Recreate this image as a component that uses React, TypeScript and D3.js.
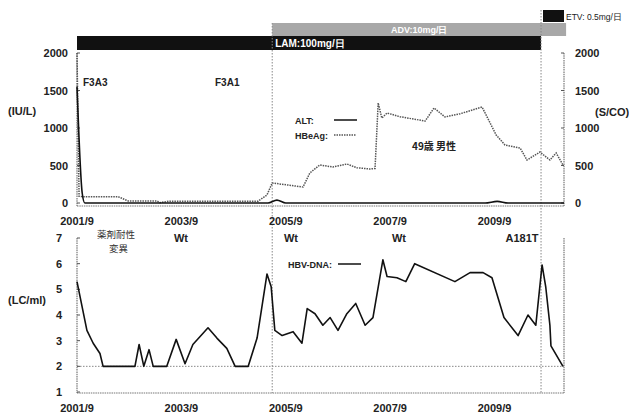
import React from "react";
import * as d3 from "d3";

// x values are decimal years
const xTickValues = [2001.67, 2003.67, 2005.67, 2007.67, 2009.67];
const xTickLabels = ["2001/9", "2003/9", "2005/9", "2007/9", "2009/9"];
const topTicks = [0, 500, 1000, 1500, 2000];
const bottomTicks = [1, 2, 3, 4, 5, 6, 7];

const altYears = [2001.67, 2001.77, 2001.82, 2005.33, 2005.5, 2005.67, 2009.49, 2009.72, 2009.93, 2011.0];
const altValues = [1550, 130, 0, 0, 38, 0, 0, 22, 0, 0];

const hbeagYears = [2001.67, 2001.71, 2001.77, 2002.46, 2002.65, 2003.2, 2003.26, 2003.45, 2005.14, 2005.31, 2005.41, 2006.0, 2006.13, 2006.32, 2006.57, 2006.84, 2007.03, 2007.28, 2007.38, 2007.44, 2007.51, 2007.61, 2007.86, 2008.34, 2008.51, 2008.72, 2009.01, 2009.43, 2009.7, 2009.87, 2010.16, 2010.29, 2010.54, 2010.73, 2010.85, 2010.98];
const hbeagValues = [2000, 90, 85, 84, 27, 27, 5, 25, 25, 107, 267, 213, 400, 507, 480, 520, 470, 453, 460, 1333, 1133, 1200, 1150, 1093, 1267, 1147, 1190, 1280, 907, 773, 733, 573, 680, 573, 667, 507];

const dnaYears = [2001.67, 2001.86, 2001.98, 2002.11, 2002.17, 2002.78, 2002.86, 2002.95, 2003.05, 2003.13, 2003.39, 2003.57, 2003.74, 2003.89, 2004.18, 2004.35, 2004.54, 2004.7, 2004.95, 2005.12, 2005.31, 2005.39, 2005.46, 2005.6, 2005.81, 2005.98, 2006.08, 2006.23, 2006.38, 2006.52, 2006.67, 2006.84, 2007.01, 2007.19, 2007.34, 2007.53, 2007.61, 2007.8, 2007.97, 2008.14, 2008.91, 2009.2, 2009.45, 2009.62, 2009.85, 2010.12, 2010.31, 2010.46, 2010.58, 2010.65, 2010.73, 2010.75, 2010.98];
const dnaValues = [5.3, 3.4, 2.9, 2.5, 2.0, 2.0, 2.85, 2.0, 2.65, 2.0, 2.0, 3.05, 2.1, 2.85, 3.5, 3.1, 2.7, 2.0, 2.0, 3.1, 5.6, 5.1, 3.4, 3.2, 3.35, 2.9, 4.25, 4.05, 3.6, 3.9, 3.4, 4.05, 4.45, 3.6, 3.9, 6.15, 5.5, 5.45, 5.3, 6.0, 5.3, 5.65, 5.65, 5.45, 3.9, 3.2, 4.0, 3.6, 5.95, 5.1, 3.6, 2.8, 2.0];

const lamStart = 2001.67;
const lamEnd = 2010.56;
const advStart = 2005.41;
const advEnd = 2011.04;
const etvStart = 2010.56;
const dnaThreshold = 2;

const FONT = "'Liberation Sans', Arial, sans-serif";
const CJK = "'Noto Sans CJK JP', sans-serif";

export default function App() {
  const x = d3.scaleLinear().domain([2001.67, 2011.0]).range([77, 564]);
  const yTop = d3.scaleLinear().domain([0, 2000]).range([203, 53]);
  const yBot = d3.scaleLinear().domain([1, 7]).range([392, 238]);

  const altLine = d3
    .line<number>()
    .x((_, i) => x(altYears[i]))
    .y((d) => yTop(d))
    .curve(d3.curveMonotoneX);
  const hbLine = d3
    .line<number>()
    .x((_, i) => x(hbeagYears[i]))
    .y((d) => yTop(d));
  const dnaLine = d3
    .line<number>()
    .x((_, i) => x(dnaYears[i]))
    .y((d) => yBot(d));

  const frame = { stroke: "#777", strokeWidth: 1.2, strokeDasharray: "1.5,0.8", fill: "none" };
  const tickStyle: React.CSSProperties = { fontFamily: FONT, fontSize: 11, fontWeight: 700, fill: "#222" };

  return (
    <svg width={629} height={413} style={{ position: "absolute", left: 0, top: 0, background: "#fff" }}>
      {/* treatment bars */}
      <rect x={x(advStart)} y={23} width={x(advEnd) - x(advStart)} height={13} fill="#a8a8a8" />
      <text x={(x(advStart) + x(advEnd)) / 2} y={33} textAnchor="middle" style={{ fontFamily: FONT, fontSize: 9, fill: "#fff", fontWeight: 700 }}>
        ADV:10mg/日
      </text>
      <rect x={x(lamStart)} y={36} width={x(lamEnd) - x(lamStart)} height={14} fill="#111" />
      <text x={x(advStart) + 3} y={47} style={{ fontFamily: FONT, fontSize: 10, fill: "#fff", fontWeight: 700 }}>
        LAM:100mg/日
      </text>
      <rect x={543} y={10} width={21} height={12} fill="#111" />
      <text x={566} y={19.5} style={{ fontFamily: FONT, fontSize: 8.5, fill: "#222" }}>
        ETV: 0.5mg/日
      </text>

      {/* vertical event lines */}
      <line x1={x(advStart)} x2={x(advStart)} y1={23} y2={393} stroke="#888" strokeWidth={1} strokeDasharray="1.5,1.5" />
      <line x1={x(etvStart)} x2={x(etvStart)} y1={10} y2={393} stroke="#888" strokeWidth={1} strokeDasharray="1.5,1.5" />

      {/* top panel frame */}
      <line x1={77} x2={77} y1={53} y2={206} {...frame} />
      <line x1={77} x2={564} y1={206} y2={206} {...frame} />
      <line x1={564} x2={564} y1={53} y2={206} {...frame} />
      {topTicks.map((t) => (
        <g key={"tt" + t}>
          <line x1={77} x2={80} y1={yTop(t)} y2={yTop(t)} stroke="#555" />
          <line x1={561} x2={564} y1={yTop(t)} y2={yTop(t)} stroke="#555" />
          <text x={68} y={yTop(t) + 4} textAnchor="end" style={tickStyle}>{t}</text>
          <text x={575} y={yTop(t) + 4} style={tickStyle}>{t}</text>
        </g>
      ))}
      <text x={8} y={115} style={tickStyle}>(IU/L)</text>
      <text x={595} y={116} style={tickStyle}>(S/CO)</text>
      {xTickValues.map((v, i) => (
        <text key={"xt" + i} x={x(v)} y={225} textAnchor="middle" style={tickStyle}>{xTickLabels[i]}</text>
      ))}

      <path d={hbLine(hbeagValues) || ""} fill="none" stroke="#555" strokeWidth={1.5} strokeDasharray="1.5,1" />
      <path d={altLine(altValues) || ""} fill="none" stroke="#111" strokeWidth={1.6} />

      <text x={83} y={86} style={{ ...tickStyle, fontSize: 10 }}>F3A3</text>
      <text x={215} y={86} style={{ ...tickStyle, fontSize: 10 }}>F3A1</text>
      <text x={295} y={124} style={{ ...tickStyle, fontSize: 9 }}>ALT:</text>
      <line x1={334} x2={357} y1={120} y2={120} stroke="#111" strokeWidth={1.5} />
      <text x={295} y={139} style={{ ...tickStyle, fontSize: 9 }}>HBeAg:</text>
      <line x1={334} x2={356} y1={135} y2={135} stroke="#555" strokeWidth={1.3} strokeDasharray="1.5,1" />
      <text x={412} y={150} style={{ fontFamily: CJK, fontSize: 10, fill: "#222", fontWeight: 700 }}>49歳 男性</text>

      {/* bottom panel */}
      <line x1={77} x2={77} y1={238} y2={393} {...frame} />
      <line x1={77} x2={564} y1={393} y2={393} {...frame} />
      <line x1={564} x2={564} y1={238} y2={393} {...frame} />
      <line x1={77} x2={564} y1={yBot(dnaThreshold)} y2={yBot(dnaThreshold)} stroke="#888" strokeWidth={1} strokeDasharray="1.5,1.5" />
      {bottomTicks.map((t) => (
        <g key={"bt" + t}>
          <line x1={77} x2={80} y1={yBot(t)} y2={yBot(t)} stroke="#555" />
          <text x={62} y={yBot(t) + 4} textAnchor="end" style={tickStyle}>{t}</text>
        </g>
      ))}
      <text x={8} y={304} style={tickStyle}>(LC/ml)</text>
      {xTickValues.map((v, i) => (
        <text key={"xb" + i} x={x(v)} y={412} textAnchor="middle" style={tickStyle}>{xTickLabels[i]}</text>
      ))}
      <path d={dnaLine(dnaValues) || ""} fill="none" stroke="#111" strokeWidth={1.6} strokeLinejoin="round" />

      <text x={97} y={238} style={{ fontFamily: CJK, fontSize: 9.5, fill: "#333" }}>薬剤耐性</text>
      <text x={109} y={252} style={{ fontFamily: CJK, fontSize: 9.5, fill: "#333" }}>変異</text>
      <text x={181} y={242} textAnchor="middle" style={tickStyle}>Wt</text>
      <text x={291} y={242} textAnchor="middle" style={tickStyle}>Wt</text>
      <text x={399} y={242} textAnchor="middle" style={tickStyle}>Wt</text>
      <text x={522} y={242} textAnchor="middle" style={tickStyle}>A181T</text>
      <text x={288} y={268} style={{ ...tickStyle, fontSize: 9 }}>HBV-DNA:</text>
      <line x1={338} x2={361} y1={264} y2={264} stroke="#111" strokeWidth={1.5} />
    </svg>
  );
}
